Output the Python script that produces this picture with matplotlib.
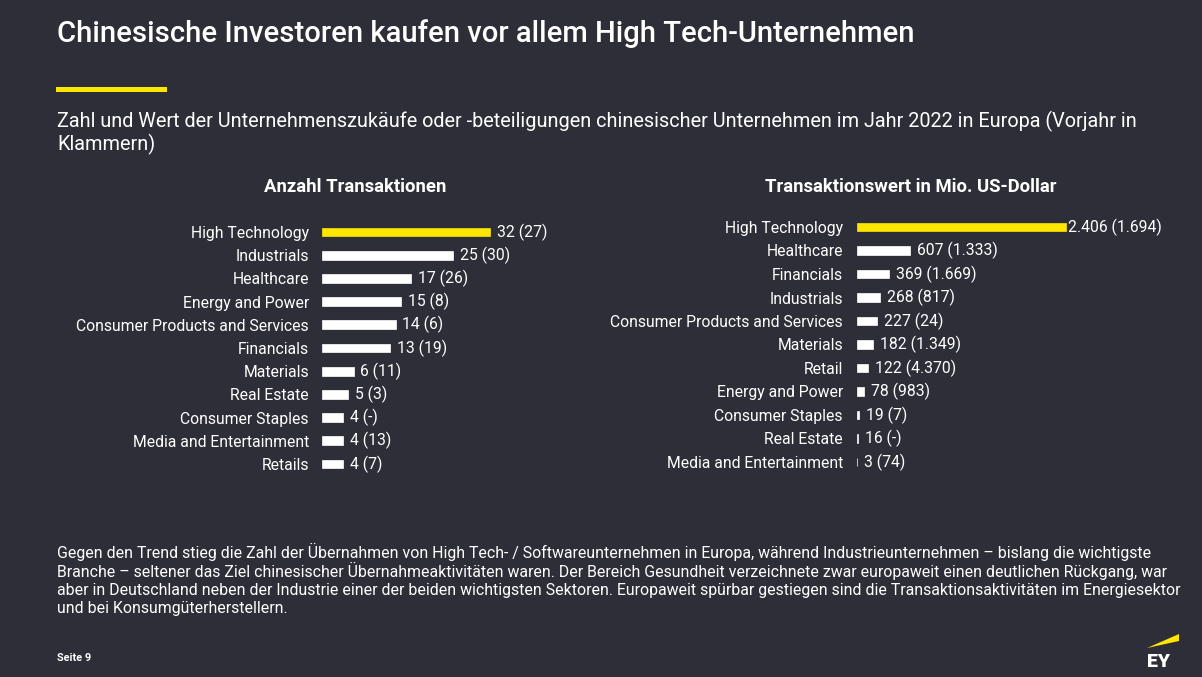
import matplotlib
matplotlib.use("Agg")
import matplotlib.pyplot as plt
from matplotlib.patches import Polygon

# ---------------- data ----------------
count_categories = ["High Technology", "Industrials", "Healthcare", "Energy and Power",
                    "Consumer Products and Services", "Financials", "Materials",
                    "Real Estate", "Consumer Staples", "Media and Entertainment", "Retails"]
count_values = [32, 25, 17, 15, 14, 13, 6, 5, 4, 4, 4]
count_prev = ["27", "30", "26", "8", "6", "19", "11", "3", "-", "13", "7"]

value_categories = ["High Technology", "Healthcare", "Financials", "Industrials",
                    "Consumer Products and Services", "Materials", "Retail",
                    "Energy and Power", "Consumer Staples", "Real Estate",
                    "Media and Entertainment"]
value_values = [2406, 607, 369, 268, 227, 182, 122, 78, 19, 16, 3]
value_prev = ["1.694", "1.333", "1.669", "817", "24", "1.349", "4.370", "983", "7", "-", "74"]

title = "Chinesische Investoren kaufen vor allem High Tech-Unternehmen"
subtitle_lines = ["Zahl und Wert der Unternehmenszukäufe oder -beteiligungen chinesischer Unternehmen im Jahr 2022 in Europa (Vorjahr in",
                  "Klammern)"]
left_title = "Anzahl Transaktionen"
right_title = "Transaktionswert in Mio. US-Dollar"
body_lines = [
    "Gegen den Trend stieg die Zahl der Übernahmen von High Tech- / Softwareunternehmen in Europa, während Industrieunternehmen – bislang die wichtigste",
    "Branche – seltener das Ziel chinesischer Übernahmeaktivitäten waren. Der Bereich Gesundheit verzeichnete zwar europaweit einen deutlichen Rückgang, war",
    "aber in Deutschland neben der Industrie einer der beiden wichtigsten Sektoren. Europaweit spürbar gestiegen sind die Transaktionsaktivitäten im Energiesektor",
    "und bei Konsumgüterherstellern.",
]
page_label = "Seite 9"

# ---------------- style ----------------
BG = "#2E2E38"
YELLOW = "#FFE600"
WHITE = "#FFFFFF"
FONT = ["Roboto", "DejaVu Sans"]
plt.rcParams["font.family"] = FONT

W, H = 1202, 677
fig = plt.figure(figsize=(W / 100, H / 100), dpi=100, facecolor=BG)
renderer = fig.canvas.get_renderer()


def fit_size(text, target_px, weight="normal", base=10.0):
    t = fig.text(0, 0, text, fontsize=base, fontweight=weight)
    w = t.get_window_extent(renderer=renderer).width
    t.remove()
    return base * target_px / w


def ftext(x, y, s, **kw):
    return fig.text(x / W, 1 - y / H, s, color=WHITE, **kw)


# title
ftext(57, 42, title, fontsize=fit_size(title, 856, "medium"), fontweight="medium", va="baseline")
# yellow rule
fig.add_artist(plt.Rectangle((56 / W, 1 - 91.5 / H), 111 / W, 5 / H, transform=fig.transFigure,
                             color=YELLOW, lw=0))
# subtitle
sub_fs = fit_size(subtitle_lines[0], 1084)
ftext(57, 127, subtitle_lines[0], fontsize=sub_fs, va="baseline")
ftext(57, 150, subtitle_lines[1], fontsize=sub_fs, va="baseline")

# chart titles
ftext(355, 192, left_title, fontsize=fit_size(left_title, 182, "bold"), fontweight="bold",
      ha="center", va="baseline")
ftext(911, 192, right_title, fontsize=fit_size(right_title, 292, "bold"), fontweight="bold",
      ha="center", va="baseline")

label_fs = fit_size("Consumer Products and Services", 232)


def bar_panel(left_px, right_px, top_px, bottom_px, px_per_unit, cats, vals, prev, pad_px, gaps):
    ax = fig.add_axes([left_px / W, 1 - bottom_px / H, (right_px - left_px) / W,
                       (bottom_px - top_px) / H])
    ax.set_facecolor("none")
    n = len(cats)
    ypos = list(range(n))
    colors = [YELLOW] + [WHITE] * (n - 1)
    ax.barh(ypos, vals, height=0.38, color=colors, edgecolor=colors, lw=0.5)
    ax.set_xlim(0, (right_px - left_px) / px_per_unit)
    ax.set_ylim(n - 0.5, -0.5)
    ax.set_yticks(ypos)
    ax.set_yticklabels(cats, fontsize=label_fs, color=WHITE)
    ax.tick_params(axis="y", length=0, pad=pad_px * 0.72)
    ax.set_xticks([])
    for s in ax.spines.values():
        s.set_visible(False)
    for i, (v, p) in enumerate(zip(vals, prev)):
        lab = f"{v:,}".replace(",", ".") + f" ({p})"
        ax.annotate(lab, (v, i), xytext=(gaps[i], 0), textcoords="offset points",
                    va="center", ha="left", fontsize=label_fs, color=WHITE)
    return ax


bar_panel(322, 600, 220.4, 475.6, 168 / 32, count_categories, count_values, count_prev, 13,
          [5] * 11)
bar_panel(857, 1195, 215.25, 473.75, 209 / 2406, value_categories, value_values, value_prev, 14,
          [1.5] + [5] * 10)

# body text
body_fs = fit_size(body_lines[2], 1123)
for i, line in enumerate(body_lines):
    ftext(57, 558.3 + i * 18.2, line, fontsize=body_fs, va="baseline")

# page label
ftext(57, 661, page_label, fontsize=fit_size(page_label, 34, "bold"), fontweight="bold",
      va="baseline")

# EY logo
fig.add_artist(Polygon([(1147 / W, 1 - 648 / H), (1179 / W, 1 - 641 / H), (1179 / W, 1 - 634 / H)],
                       closed=True, transform=fig.transFigure, color=YELLOW, lw=0))
ftext(1159, 667, "EY", fontsize=fit_size("EY", 23, "heavy"), fontweight="heavy",
      ha="center", va="baseline")

fig.savefig("out.png", dpi=100, facecolor=BG)
